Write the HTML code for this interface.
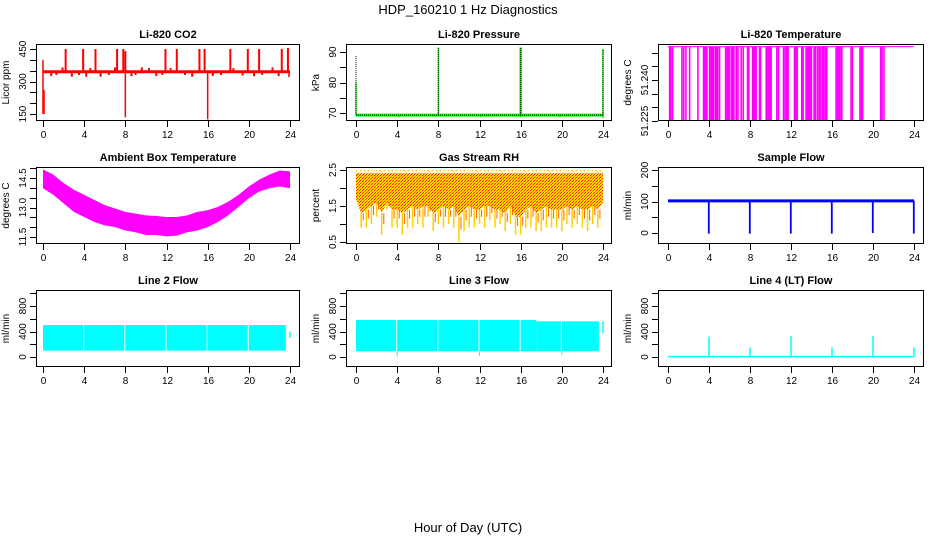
<!DOCTYPE html>
<html><head><meta charset="utf-8"><style>
body{margin:0;background:#fff;}
svg{display:block;font-family:"Liberation Sans",Arial,sans-serif;}
</style></head><body>
<svg id="s" width="936" height="540" viewBox="0 0 936 540">
<rect width="936" height="540" fill="#fff"/>
<defs>
<pattern id="rhpat" width="3" height="3" patternUnits="userSpaceOnUse"><rect width="3" height="3" fill="#ffd800"/><rect width="1" height="1" fill="#ff2000"/><rect x="2" y="1" width="1" height="1" fill="#ff2000"/><rect x="1" y="2" width="1" height="1" fill="#ff8000"/></pattern>
</defs>
<text x="468" y="14" text-anchor="middle" font-size="13">HDP_160210  1 Hz Diagnostics</text>
<text x="468" y="532" text-anchor="middle" font-size="13">Hour of Day (UTC)</text>
</svg>
<script>
// ---- data ----
const xTicks=[0,4,8,12,16,20,24];
// CO2
const co2Base=345;
const co2UpHours=[2.2,3.9,5.1,7.2,7.8,8.0,11.9,13.0,15.2,15.7,18.2,19.9,21.0,23.2,23.8];
const co2UpTops=[450,450,450,450,450,440,450,450,450,450,450,450,450,450,455];
const co2DownHours=[0.0,0.1,8.0,16.0,23.9];
const co2DownTops=[400,260,345,345,345];
const co2DownBottoms=[150,150,135,125,320];
const co2BlipHours=[0.8,1.3,1.9,2.8,3.5,4.2,4.6,5.6,6.4,7.0,8.6,9.0,9.6,10.3,11.0,11.6,12.4,13.8,14.5,16.5,17.3,18.5,19.4,20.5,21.3,22.3,22.9];
const co2BlipVals=[325,330,365,322,330,322,362,322,330,365,325,330,365,362,325,330,362,330,322,325,330,362,328,325,330,365,325];
// Pressure
const presBase=69.3;
const presSpikeHours=[0,8,16,24];
const presSpikeTops=[89,91.5,91.5,91];
const presGreenTops=[80,91.5,91.5,91];
const presDipHours=[4.2,12.1,16,19.8,24];
const presDipVals=[68.6,68.6,68.6,68.6,68.3];
// Temperature
const tempTop=51.2522;
const tempLow=51.2253;
const tempBarHours=[0.16,0.29,0.45,1.36,1.53,1.75,2.11,2.92,3.47,3.57,3.70,3.80,4.06,4.19,4.29,4.42,4.61,4.74,4.84,5.03,5.62,5.75,5.88,5.97,6.17,6.30,6.43,6.66,6.82,7.14,7.34,7.76,7.89,8.25,8.34,8.47,8.60,8.93,9.03,9.58,9.71,9.84,9.97,10.06,10.62,10.78,11.27,11.43,11.59,11.72,12.34,12.47,12.60,13.05,13.18,13.47,13.60,13.73,13.86,13.99,14.25,14.38,14.58,14.74,14.87,15.06,15.19,15.36,15.49,16.40,16.53,16.66,16.79,16.95,17.86,17.99,18.73,18.86,18.99,20.75,20.88,21.07];
// Ambient box temperature
const ambHours=[0,1,2,3,4,5,6,7,8,9,10,11,12,13,14,15,16,17,18,19,20,21,22,23,24];
const ambHigh=[14.93,14.67,14.24,13.90,13.64,13.38,13.12,12.95,12.78,12.69,12.60,12.57,12.52,12.52,12.60,12.78,12.86,13.03,13.29,13.64,14.07,14.41,14.67,14.88,14.84];
const ambLow=[13.98,13.64,13.21,12.78,12.52,12.26,12.09,12.00,11.83,11.74,11.60,11.60,11.53,11.57,11.74,11.83,12.00,12.26,12.60,13.03,13.47,13.81,13.98,14.07,13.98];
// Gas stream RH
const rhTop=2.42;
const rhSolidLow=[1.7,1.3,1.4,1.5,1.6,1.3,1.6,1.4,1.4,1.3,1.4,1.5,1.4,1.5,1.5,1.3,1.4,1.5,1.4,1.5,1.2,1.4,1.5,1.4,1.4,1.5,1.5,1.4,1.4,1.3,1.5,1.2,1.2,1.4,1.5,1.3,1.4,1.5,1.4,1.4,1.4,1.5,1.4,1.5,1.4,1.4,1.5,1.4,1.6];
const rhMin=[1.7,0.9,0.9,1.0,1.2,0.7,1.4,0.9,0.9,0.7,0.9,0.9,1.0,0.9,1.2,0.8,1.0,0.9,1.0,0.9,0.5,0.8,0.9,0.9,1.0,0.9,1.1,0.9,1.0,0.8,1.0,0.7,0.7,0.9,0.9,0.8,0.8,0.9,0.9,0.9,0.8,1.0,0.9,1.0,0.9,0.8,1.0,0.9,1.6];
// Sample flow
const sfBase=102;
const sfDropHours=[4,8,12,16,20,24];
const sfDropVals=[-2,-2,-2,-2,0,-2];
// Line 2 flow
const l2Low=100, l2High=500, l2End=23.6;
const l2GapHours=[3.95,7.95,11.95,15.95,19.95];
const l2TailHour=24.0, l2TailLow=300, l2TailHigh=400;
// Line 3 flow
const l3Low=90;
const l3StepHours=[0,17.5,24];
const l3StepHigh=[580,560];
const l3GapHours=[3.95,7.95,11.95,15.95,19.95];
const l3DipHours=[4.0,12.0,20.0];
const l3DipVals=[10,20,30];
const l3TailLow=370;
// Line 4 flow
const l4Base=5;
const l4SpikeHours=[4,8,12,16,20,24];
const l4SpikeVals=[320,150,330,150,330,150];

// ---- layout ----
const S=document.getElementById('s');
const NS='http://www.w3.org/2000/svg';
const colL=[36,346,658],colR=[300,612,924],colX0=[43,356,668],colX24=[290,603,914];
const rowT=[44,167,290],rowB=[121,244,367];
function el(tag,attrs,parent){const e=document.createElementNS(NS,tag);for(const k in attrs)e.setAttribute(k,attrs[k]);(parent||S).appendChild(e);return e;}
let pid=0;
function panel(c,r,name,title,ytitle,yt,ylab,v1,p1,v2,p2){
  const g=el('g',{});
  
  
  const sx=h=>colX0[c]+(colX24[c]-colX0[c])*h/24;
  const sy=v=>p1+(p2-p1)*(v-v1)/(v2-v1);
  const L=colL[c],R=colR[c],T=rowT[r],B=rowB[r];
  const t=el('text',{x:(L+R)/2,y:T-6,'text-anchor':'middle','font-size':11,'font-weight':'bold'},g);
  t.textContent=title;
  
  
  const yt2=el('text',{x:0,y:0,'text-anchor':'middle','font-size':10,transform:`translate(${L-27},${(T+B)/2}) rotate(-90)`},g);
  yt2.textContent=ytitle;
  
  
  const xa=el('g',{stroke:'#000','stroke-width':1},g);
  
  
  xTicks.forEach(h=>{const x=Math.round(sx(h))+0.5;el('line',{x1:x,x2:x,y1:B,y2:B+6},xa);
    const tx=el('text',{x:x,y:B+17,'text-anchor':'middle','font-size':10,stroke:'none'},xa);tx.textContent=h;});
  const ya=el('g',{stroke:'#000','stroke-width':1},g);
  
  
  yt.forEach(v=>{const y=Math.round(sy(v))+0.5;el('line',{x1:L-6,x2:L,y1:y,y2:y},ya);});
  ylab.forEach(v=>{const y=sy(v);const tx=el('text',{x:0,y:0,'text-anchor':'middle','font-size':10,stroke:'none',transform:`translate(${L-10},${y}) rotate(-90)`},ya);tx.textContent=v;});
  pid++;
  const cp=el('clipPath',{id:'cp'+pid},g);el('rect',{x:L,y:T,width:R-L,height:B-T},cp);
  const d=el('g',{'clip-path':`url(#cp${pid})`},g);
  
  
  const box=el('rect',{x:L+0.5,y:T+0.5,width:R-L-1,height:B-T-1,fill:'none',stroke:'#000'},g);
  
  
  return {sx,sy,d};
}
function vline(p,h,a,b,col,w,extra){const x=p.sx(h);return el('line',Object.assign({x1:x,x2:x,y1:p.sy(a),y2:p.sy(b),stroke:col,'stroke-width':w||1},extra||{}),p.d);}
function hline(p,h1,h2,v,col,w,extra){return el('line',Object.assign({x1:p.sx(h1),x2:p.sx(h2),y1:p.sy(v),y2:p.sy(v),stroke:col,'stroke-width':w||1},extra||{}),p.d);}

// CO2
let p=panel(0,0,'co2','Li-820 CO2','Licor ppm',[150,200,250,300,350,400,450],[150,300,450],150,114,450,49);
hline(p,0,24,co2Base,'#f00',3);
co2UpHours.forEach((h,i)=>{vline(p,h,co2Base,co2UpTops[i],'#f00',2);});
co2DownHours.forEach((h,i)=>{vline(p,h,co2DownTops[i],co2DownBottoms[i],'#f00',1.5);});
co2BlipHours.forEach((h,i)=>{vline(p,h,co2Base,co2BlipVals[i],'#f00',2);});

// Pressure
p=panel(1,0,'pressure','Li-820 Pressure','kPa',[70,75,80,85,90],[70,80,90],70,113,90,52);
hline(p,0,24,presBase,'#0f0',3);
presDipHours.forEach((h,i)=>vline(p,h,presBase,presDipVals[i],'#0f0',1.5));
presSpikeHours.forEach((h,i)=>{vline(p,h,presBase,presGreenTops[i],'#0f0',i==2?2.5:1.5);vline(p,h,presBase,presSpikeTops[i],'#000',1,{'stroke-dasharray':'1 1'});});
hline(p,0,24,presBase,'#000',1,{'stroke-dasharray':'1 1'});

// Temperature
p=panel(2,0,'temperature','Li-820 Temperature','degrees C',[51.225,51.23,51.235,51.24,51.245,51.25],['51.225','51.240'],51.225,121,51.24,80);
hline(p,0,24,tempTop,'#f0f',1);
tempBarHours.forEach(h=>vline(p,h,tempTop,tempLow,'#f0f',1.6));

// Ambient
p=panel(0,1,'ambient-box-temperature','Ambient Box Temperature','degrees C',[11.5,12,12.5,13,13.5,14,14.5,15],['11.5','13.0','14.5'],11.5,237,14.5,178);
{let pts=ambHours.map((h,i)=>p.sx(h)+','+p.sy(ambHigh[i]));for(let i=ambHours.length-1;i>=0;i--)pts.push(p.sx(ambHours[i])+','+p.sy(ambLow[i]));
 el('polygon',{points:pts.join(' '),fill:'#f0f'},p.d);}

// RH
p=panel(1,1,'gas-stream-rh','Gas Stream RH','percent',[0.5,1,1.5,2,2.5],['0.5','1.5','2.5'],0.5,242,2.5,170);
{let pts=[];rhSolidLow.forEach((v,i)=>pts.push(p.sx(i*0.5)+','+p.sy(rhTop)));
 for(let i=rhSolidLow.length-1;i>=0;i--)pts.push(p.sx(i*0.5)+','+p.sy(rhSolidLow[i]));
 el('polygon',{points:pts.join(' '),fill:'url(#rhpat)'},p.d);
 rhMin.forEach((v,i)=>{vline(p,i*0.5,rhSolidLow[i],v,'#ffd000',1.5);vline(p,i*0.5+0.2,rhSolidLow[i],(v+rhSolidLow[i])/2,'#ff6000',1);});
 hline(p,0,24,rhTop+0.06,'#ff9000',1,{'stroke-dasharray':'1 3'});}

// Sample flow
p=panel(2,1,'sample-flow','Sample Flow','ml/min',[0,50,100,150,200],[0,100,200],0,233,200,170);
hline(p,0,24,sfBase,'#00f',3);
sfDropHours.forEach((h,i)=>vline(p,h-0.02,sfBase,sfDropVals[i],'#00f',1.8));

// Line 2
p=panel(0,2,'line-2-flow','Line 2 Flow','ml/min',[0,200,400,600,800,1000],[0,400,800],0,357,800,306);
el('rect',{x:p.sx(0),y:p.sy(l2High),width:p.sx(l2End)-p.sx(0),height:p.sy(l2Low)-p.sy(l2High),fill:'#0ff'},p.d);
l2GapHours.forEach(h=>vline(p,h,l2High,l2Low,'#fff',1));
vline(p,l2TailHour,l2TailLow,l2TailHigh,'#0ff',1.5);

// Line 3
p=panel(1,2,'line-3-flow','Line 3 Flow','ml/min',[0,200,400,600,800,1000],[0,400,800],0,357,800,306);
l3StepHigh.forEach((v,i)=>{el('rect',{x:p.sx(l3StepHours[i]),y:p.sy(v),width:p.sx(l3StepHours[i+1]-0.4*(i==1))-p.sx(l3StepHours[i]),height:p.sy(l3Low)-p.sy(v),fill:'#0ff'},p.d);});
l3GapHours.forEach(h=>vline(p,h,580,l3Low,'#fff',1));
l3DipHours.forEach((h,i)=>vline(p,h,l3Low,l3DipVals[i],'#0ff',1));
vline(p,24,l3StepHigh[1],l3TailLow,'#0ff',1.5);

// Line 4
p=panel(2,2,'line-4-flow','Line 4 (LT) Flow','ml/min',[0,200,400,600,800,1000],[0,400,800],0,357,800,306);
hline(p,0,24,l4Base,'#0ff',1.5);
l4SpikeHours.forEach((h,i)=>vline(p,h,l4Base,l4SpikeVals[i],'#0ff',1.5));
</script>
</body></html>
